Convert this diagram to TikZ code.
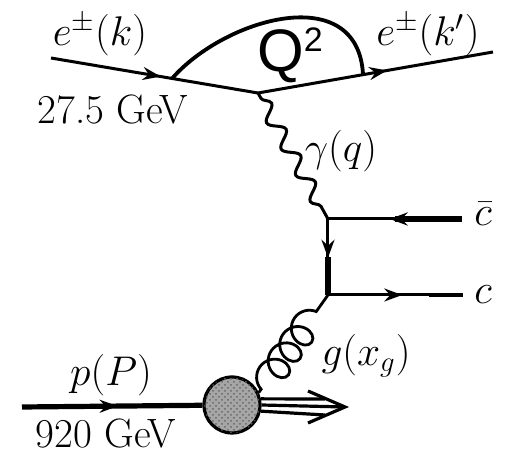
\documentclass[tikz,border=0pt]{standalone}
\usepackage{amsmath}
\usepackage{fontspec}
\newfontfamily\arialfont{Liberation Sans}
\usetikzlibrary{arrows.meta,calc,decorations.pathmorphing,decorations.markings,patterns}

\begin{document}
\begin{tikzpicture}[
  x=0.5pt, y=-0.5pt,
  font=\fontsize{20.5}{23}\selectfont,
  fermion/.style={line width=1.5pt, postaction={decorate},
    decoration={markings, mark=at position #1 with {\arrow{Stealth[length=9pt,width=6.5pt,inset=3pt]}}}},
  fermion/.default=0.55,
  photon/.style={line width=1.5pt, decorate, decoration={snake, segment length=15pt, amplitude=3.5pt, pre length=3pt, post length=3pt}},
  gluon/.style={line width=1.4pt, decorate, decoration={coil, amplitude=7pt, segment length=10pt, aspect=0.9, pre length=2pt, post length=5pt}},
  blob/.style={circle, draw, line width=1.6pt, minimum size=28pt, inner sep=0pt, fill=gray!70,
    postaction={pattern=crosshatch dots, pattern color=black!60}},
  remn/.style={line width=1.6pt}
]
\useasboundingbox (0,0) rectangle (505,454);
% vertices
\coordinate (ein) at (51,58);
\coordinate (v1) at (258,93);
\coordinate (eout) at (493,52);
\coordinate (v2) at (328,219);
\coordinate (v3) at (328,295);
\coordinate (cbar) at (462,219);
\coordinate (cq) at (463,295);
\coordinate (pin) at (22,407);
\node[blob] (pr) at (232,405) {};
% electron and Q^2 arc
\draw[fermion=0.53] (ein) -- (v1);
\draw[fermion=0.55] (v1) -- (eout);
\coordinate (qa) at ($(ein)!0.585!(v1)$);
\coordinate (qb) at ($(v1)!0.447!(eout)$);
\draw[line width=1.9pt] (qa) .. controls (225,18) and (358,-20) .. (qb);
% photon and charm pair
\draw[photon] (v1) -- (v2);
\draw[fermion=0.54] (cbar) -- (v2);
\draw[fermion=0.51] (v2) -- (v3);
\draw[fermion=0.55] (v3) -- (cq);
\draw[line width=2.8pt] (cbar) -- ($(cbar)!0.5!(v2)$);
\draw[line width=2.8pt] ($(v2)!0.5!(v3)$) -- (v3);
\draw[line width=2.1pt] ($(v3)!0.75!(cq)$) -- (cq);
% gluon
\draw[gluon] (pr.25) -- (v3);
% proton and remnant
\draw[fermion=0.53, line width=2.6pt] (pin) -- (pr);
\coordinate (rt) at (345,407);
\coordinate (r1) at (325,399);
\coordinate (r3) at (325,415);
\coordinate (ca) at (308,391);
\coordinate (cb) at (308,423);
\draw[remn] (pr.east) -- (rt);
\draw[remn] (pr.12) -- (r1);
\draw[remn] (pr.-12) -- (r3);
\draw[remn] (ca) -- (rt) -- (cb);
% labels
\node (lek) at (100,35) {$e^{\pm}(k)$};
\node (lee) at (113,110) {27.5 GeV};
\node (lekp) at (428,35) {$e^{\pm}(k')$};
\node[font=\arialfont\fontsize{30}{32}\selectfont] (lq) at (290,55) {Q\raisebox{10pt}{\fontsize{17}{17}\selectfont 2}};
\node (lgam) at (341,151) {$\gamma(q)$};
\node (lcb) at (483,214) {$\bar{c}$};
\node (lc) at (483,295) {$c$};
\node (lg) at (366,356) {$g(x_g)$};
\node (lp) at (111,375) {$p(P)$};
\node (lep) at (106,434) {920 GeV};
\end{tikzpicture}
\end{document}
